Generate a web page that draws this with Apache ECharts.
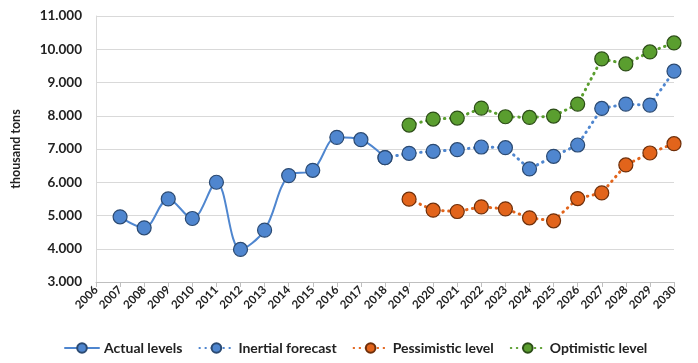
<!DOCTYPE html>
<html><head><meta charset="utf-8">
<script src="https://cdn.jsdelivr.net/npm/echarts@6/dist/echarts.min.js"></script>
<style>html,body{margin:0;padding:0;background:#fff}#c{width:698px;height:363px}</style>
</head><body><div id="c"></div>
<script>
const years = ['2006','2007','2008','2009','2010','2011','2012','2013','2014','2015','2016','2017','2018','2019','2020','2021','2022','2023','2024','2025','2026','2027','2028','2029','2030'];
const actual = [null,4960,4630,5500,4910,6000,3980,4560,6200,6360,7350,7280,6740,null,null,null,null,null,null,null,null,null,null,null,null];
const inertial = [null,null,null,null,null,null,null,null,null,null,null,null,6740,6870,6930,6980,7060,7040,6400,6780,7120,8220,8350,8320,9340];
const pessimistic = [null,null,null,null,null,null,null,null,null,null,null,null,null,5490,5160,5120,5260,5200,4930,4840,5510,5680,6520,6880,7160];
const optimistic = [null,null,null,null,null,null,null,null,null,null,null,null,null,7720,7900,7930,8230,7970,7950,7990,8350,9710,9560,9920,10190];

const FONT = 'Lato, "Open Sans", sans-serif';
const chart = echarts.init(document.getElementById('c'), null, {renderer:'canvas'});
function ser(name, data, color, border, dashed, smooth){
  return {
    name, type:'line', data, smooth: smooth ? 0.35 : false, connectNulls:false,
    symbol:'circle', symbolSize:14,
    lineStyle:{color, width: dashed ? 3 : 2, type: dashed ? [0.5,5.5] : 'solid', cap:'round'},
    itemStyle:{color, borderColor:border, borderWidth:1.2},
    emphasis:{disabled:true}
  };
}
chart.setOption({
  animation:false,
  grid:{left:96, right:24, top:16, bottom:81},
  legend:{
    bottom:3, left:59, itemWidth:34, itemHeight:12, itemGap:16,
    textStyle:{fontFamily:FONT, fontWeight:'bold', fontSize:14, color:'#222'},
    data:['Actual levels','Inertial forecast','Pessimistic level','Optimistic level']
  },
  xAxis:{
    type:'category', data:years, boundaryGap:false,
    axisLine:{lineStyle:{color:'#bfbfbf'}},
    axisTick:{show:true, alignWithLabel:true, length:5, lineStyle:{color:'#bfbfbf'}},
    axisLabel:{rotate:45, interval:0, fontFamily:FONT, fontWeight:'bold', fontSize:11.5, color:'#222', margin:6},
    splitLine:{show:false}
  },
  yAxis:{
    type:'value', min:3000, max:11000, interval:1000,
    name:'thousand tons', nameLocation:'middle', nameGap:74, nameRotate:90,
    nameTextStyle:{fontFamily:FONT, fontWeight:'bold', fontSize:12.5, color:'#222'},
    axisLine:{show:true, lineStyle:{color:'#d9d9d9'}},
    axisTick:{show:false},
    axisLabel:{fontFamily:FONT, fontWeight:'bold', fontSize:13.5, color:'#222', margin:14,
      formatter:v=>(v/1000).toFixed(3)},
    splitLine:{lineStyle:{color:'#d9d9d9'}}
  },
  series:[
    ser('Actual levels', actual, '#4f86cf', '#2b4a72', false, true),
    ser('Inertial forecast', inertial, '#4f86cf', '#2b4a72', true, false),
    ser('Pessimistic level', pessimistic, '#e2641b', '#6e2f0a', true, false),
    ser('Optimistic level', optimistic, '#5a9e2f', '#2c4d17', true, false)
  ]
});
</script></body></html>
